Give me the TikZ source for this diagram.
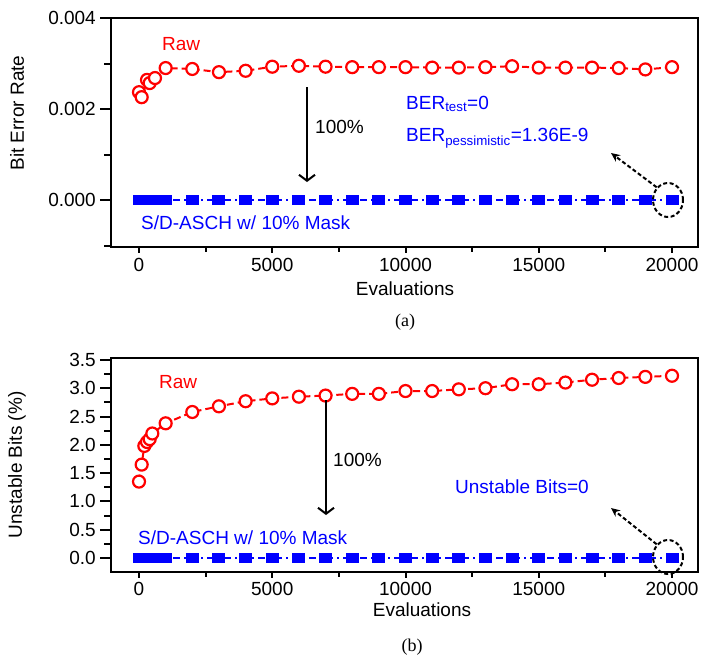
\documentclass[tikz,border=0pt]{standalone}
\usepackage{fontspec}
\setmainfont{Liberation Sans}
\newfontfamily\serifnum{Liberation Serif}
\usetikzlibrary{arrows.meta,shapes.geometric}
\begin{document}
\begin{tikzpicture}[x=1pt,y=-1pt,
  lbl/.style={font=\fontsize{19}{21}\selectfont,inner sep=0pt},
  txt/.style={font=\fontsize{19}{21}\selectfont,inner sep=0pt,anchor=west},
  raw/.style={draw=red,line width=2.2pt,fill=white,circle,minimum size=12pt,inner sep=0pt},
  sq/.style={fill=blue,minimum width=13pt,minimum height=10pt,inner sep=0pt},
  frame/.style={line width=2.6pt},
  tk/.style={line width=2pt},
  rawline/.style={red,line width=2pt,dash pattern=on 7pt off 4pt},
  blueline/.style={blue,line width=2pt,dash pattern=on 7pt off 4pt on 2pt off 4pt},
  dotarrow/.style={line width=2pt,dash pattern=on 4pt off 2.5pt,-{Stealth[length=9pt,width=8pt]}},
  downarrow/.style={line width=2pt,->,>={Straight Barb[length=6pt,width=16pt]}}]
\useasboundingbox (0,0) rectangle (706,665);
% ================= (a) =================
\draw[frame] (111,18) rectangle (698,247);
\foreach \v/\l in {0/0.000,2/0.002,4/0.004}{
  \draw[tk] (100,{200-45.5*\v}) -- (111,{200-45.5*\v});
  \node[lbl,anchor=east] at (96,{200-45.5*\v}) {\l};}
\foreach \v in {1,3}{\draw[tk] (104,{200-45.5*\v}) -- (111,{200-45.5*\v});}
\draw[tk] (104,245.5) -- (111,245.5);
\foreach \e/\l in {0/0,5/5000,10/10000,15/15000,20/20000}{
  \draw[tk] ({139+26.65*\e},247) -- ({139+26.65*\e},253);
  \node[lbl] at ({139+26.65*\e},265) {\l};}
\foreach \e in {2.5,7.5,12.5,17.5}{\draw[tk] ({139+26.65*\e},247) -- ({139+26.65*\e},252);}
\node[lbl] (xa) at (405,289) {Evaluations};
\node[lbl,rotate=90] (ya) at (17,113) {Bit Error Rate};
\node[font=\serifnum\fontsize{18}{20}\selectfont] (capa) at (405,322) {(a)};
% blue series
\draw[blueline] (139,200) -- (672,200);
\fill[blue] (133,195) rectangle (168,205);
\foreach \e in {1,2,...,20}{\node[sq] at ({139+26.65*\e},200) {};}
% raw series
\draw[rawline] (139,92) \foreach \e/\v in {0.1/2.26,0.3/2.64,0.4/2.57,0.6/2.68,1/2.9,2/2.88,3/2.81,4/2.84,5/2.93,6/2.95,7/2.93,8/2.92,9/2.92,10/2.92,11/2.91,12/2.91,13/2.92,14/2.94,15/2.91,16/2.91,17/2.91,18/2.9,19/2.87,20/2.92}{ -- ({139+26.65*\e},{200-45.5*\v})};
\foreach \e/\v in {0/2.37,0.1/2.26,0.3/2.64,0.4/2.57,0.6/2.68,1/2.9,2/2.88,3/2.81,4/2.84,5/2.93,6/2.95,7/2.93,8/2.92,9/2.92,10/2.92,11/2.91,12/2.91,13/2.92,14/2.94,15/2.91,16/2.91,17/2.91,18/2.9,19/2.87,20/2.92}{
  \node[raw] at ({139+26.65*\e},{200-45.5*\v}) {};}
\node[txt,red] (rawa) at (162,44) {Raw};
\coordinate (a1) at (307,87); \coordinate (a2) at (307,182);
\draw[downarrow] (a1) -- (a2);
\node[txt] (pa) at (315,127) {100\%};
\node[txt,blue] (bt) at (406,104) {BER\textsubscript{test}=0};
\node[txt,blue] (bp) at (406,138) {BER\textsubscript{pessimistic}=1.36E-9};
\node[draw,dash pattern=on 4pt off 2.5pt,line width=2pt,ellipse,minimum width=30pt,minimum height=34pt,inner sep=0pt] (ca) at (668,200) {};
\coordinate (ta) at (611,153);
\draw[dotarrow] (ca.north west) -- (ta);
% ================= (b) =================
\draw[frame] (111,358) rectangle (698,572);
\foreach \v/\l in {0/0.0,0.5/0.5,1/1.0,1.5/1.5,2/2.0,2.5/2.5,3/3.0,3.5/3.5}{
  \draw[tk] (100,{558-56.6*\v}) -- (111,{558-56.6*\v});
  \node[lbl,anchor=east] at (96,{558-56.6*\v}) {\l};}
\foreach \v in {0.25,0.75,...,3.25}{\draw[tk] (104,{558-56.6*\v}) -- (111,{558-56.6*\v});}
\foreach \e/\l in {0/0,5/5000,10/10000,15/15000,20/20000}{
  \draw[tk] ({139+26.65*\e},572) -- ({139+26.65*\e},578);
  \node[lbl] at ({139+26.65*\e},589) {\l};}
\foreach \e in {2.5,7.5,12.5,17.5}{\draw[tk] ({139+26.65*\e},572) -- ({139+26.65*\e},577);}
\node[lbl] (xb) at (422,610) {Evaluations};
\node[lbl,rotate=90] (yb) at (17,465) {Unstable Bits (\%)};
\node[font=\serifnum\fontsize{18}{20}\selectfont] (capb) at (412,647) {(b)};
\draw[blueline] (139,558) -- (672,558);
\fill[blue] (133,553) rectangle (168,563);
\foreach \e in {1,2,...,20}{\node[sq] at ({139+26.65*\e},558) {};}
\draw[rawline] (139,481.6) \foreach \e/\v in {0.1/1.65,0.2/1.98,0.3/2.05,0.4/2.1,0.5/2.2,1/2.38,2/2.58,3/2.68,4/2.77,5/2.82,6/2.85,7/2.87,8/2.9,9/2.9,10/2.95,11/2.95,12/2.98,13/3.0,14/3.07,15/3.07,16/3.1,17/3.15,18/3.18,19/3.2,20/3.22}{ -- ({139+26.65*\e},{558-56.6*\v})};
\foreach \e/\v in {0/1.35,0.1/1.65,0.2/1.98,0.3/2.05,0.4/2.1,0.5/2.2,1/2.38,2/2.58,3/2.68,4/2.77,5/2.82,6/2.85,7/2.87,8/2.9,9/2.9,10/2.95,11/2.95,12/2.98,13/3.0,14/3.07,15/3.07,16/3.1,17/3.15,18/3.18,19/3.2,20/3.22}{
  \node[raw] at ({139+26.65*\e},{558-56.6*\v}) {};}
\node[txt,red] (rawb) at (159,382) {Raw};
\coordinate (b1) at (326,400); \coordinate (b2) at (326,515);
\draw[downarrow] (b1) -- (b2);
\node[txt] (pb) at (333,460) {100\%};
\node[txt,blue] (ub) at (455,487) {Unstable Bits=0};
\node[draw,dash pattern=on 4pt off 2.5pt,line width=2pt,ellipse,minimum width=30pt,minimum height=34pt,inner sep=0pt] (cb) at (668,557) {};
\coordinate (tb) at (611,508);
\draw[dotarrow] (cb.north west) -- (tb);
\node[txt,blue] (sda) at (141,223) {S/D-ASCH w/ 10\% Mask};
\node[txt,blue] (sdb) at (138,538) {S/D-ASCH w/ 10\% Mask};
\end{tikzpicture}
\end{document}
